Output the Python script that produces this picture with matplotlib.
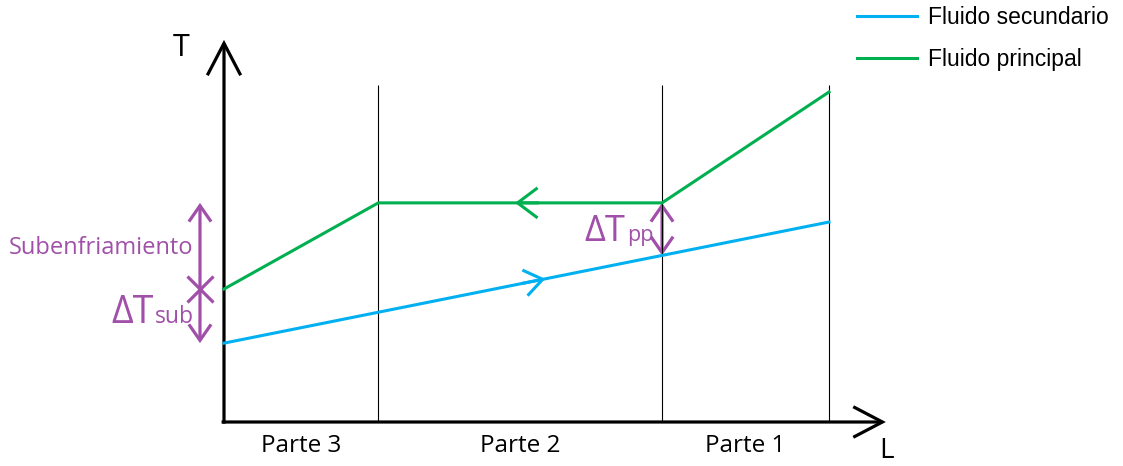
import numpy as np
import matplotlib.pyplot as plt
from matplotlib.patches import FancyArrowPatch

W, H = 1123, 466

# schematic values: L in % of length, T in arbitrary units
parts = ['Parte 3', 'Parte 2', 'Parte 1']
L_bounds = [0, 25.5, 72.4, 100]
L_green = [0, 25.5, 72.4, 100]
T_green = [40.3, 66.4, 66.4, 100]
L_blue = [0, 100]
T_blue = [23.9, 60.6]
T_top = 102
L_arrow_green = 48.1
L_arrow_blue = 53.1

BLUE = '#00B0F0'
GREEN = '#00B050'
PURPLE = '#A050A8'

fig = plt.figure(figsize=(W / 100, H / 100), dpi=100)
ax = fig.add_axes([0, 0, 1, 1])
ax.axis('off')
ax.set_xlim(-224 / 6.05, (W - 224) / 6.05)
ax.set_ylim(-(H - 422) / 3.3, 422 / 3.3)


def P(x, y):
    # pixel position -> figure fraction
    return x / W, 1 - y / H


def arrow(p0, p1, color, lw, hl, hw, style='->'):
    a = FancyArrowPatch(p0, p1, arrowstyle=f'{style},head_length={hl},head_width={hw}',
                        color=color, lw=lw, shrinkA=0, shrinkB=0, mutation_scale=1,
                        joinstyle='miter', capstyle='butt')
    ax.add_patch(a)


# axes
arrow((0, -0.5), (0, 115.8), 'black', 2.3, 23, 12)
arrow((-0.4, 0), (109.4, 0), 'black', 2.3, 21, 11)
ax.vlines(L_bounds[1:], 0, T_top, color='black', lw=0.8)

ax.plot(L_blue, T_blue, color=BLUE, lw=2.2, label='Fluido secundario')
ax.plot(L_green, T_green, color=GREEN, lw=2.2, label='Fluido principal')

# flow direction arrows
Tg = np.interp(L_arrow_green, L_green, T_green)
arrow((L_arrow_green + 4, Tg), (L_arrow_green, Tg), GREEN, 2.2, 14.4, 10.8)
Tb = np.interp(L_arrow_blue, L_blue, T_blue)
Tb0 = np.interp(L_arrow_blue - 4, L_blue, T_blue)
arrow((L_arrow_blue - 4, Tb0), (L_arrow_blue, Tb), BLUE, 2.2, 13, 9.4)

# pinch point and subcooling
Lpp = L_bounds[2]
arrow((Lpp, T_green[2]), (Lpp, np.interp(Lpp, L_blue, T_blue)), PURPLE, 2.3, 11.5, 8, '<->')
Ls = -3.97
arrow((Ls, T_green[1]), (Ls, T_blue[0]), PURPLE, 2.3, 11.5, 8, '<->')
ax.plot([Ls], [T_green[0]], marker='x', ms=19, mew=2.3, color=PURPLE)

txt = dict(family='Open Sans', color=PURPLE, va='baseline')
fig.text(*P(193, 254), 'Subenfriamiento', ha='right', fontsize=17, **txt)
fig.text(*P(154, 323), 'ΔT', ha='right', fontsize=27, **txt)
fig.text(*P(155, 323), 'sub', ha='left', fontsize=16.5, **txt)
fig.text(*P(625, 241), 'ΔT', ha='right', fontsize=26, **txt)
fig.text(*P(627, 241), 'pp', ha='left', fontsize=15.5, **txt)

# axis labels and parts
fig.text(*P(181, 56), 'T', ha='center', va='baseline', fontsize=22, family='Open Sans')
fig.text(*P(886, 458), 'L', ha='center', va='baseline', fontsize=20, family='Open Sans')
for i, p in enumerate(parts):
    xc = (L_bounds[i] + L_bounds[i + 1]) / 2
    ax.text(xc, -(452 - 422) / 3.3, p, ha='center', va='baseline', fontsize=17.5,
            family='Open Sans')

ax.legend(loc='upper left', bbox_to_anchor=P(857, 6), bbox_transform=fig.transFigure,
          frameon=False, borderpad=0, borderaxespad=0, handlelength=2.6, handletextpad=0.48,
          labelspacing=0.85, prop=dict(family='Liberation Sans', size=16.5))

fig.savefig('out.png', dpi=100)
